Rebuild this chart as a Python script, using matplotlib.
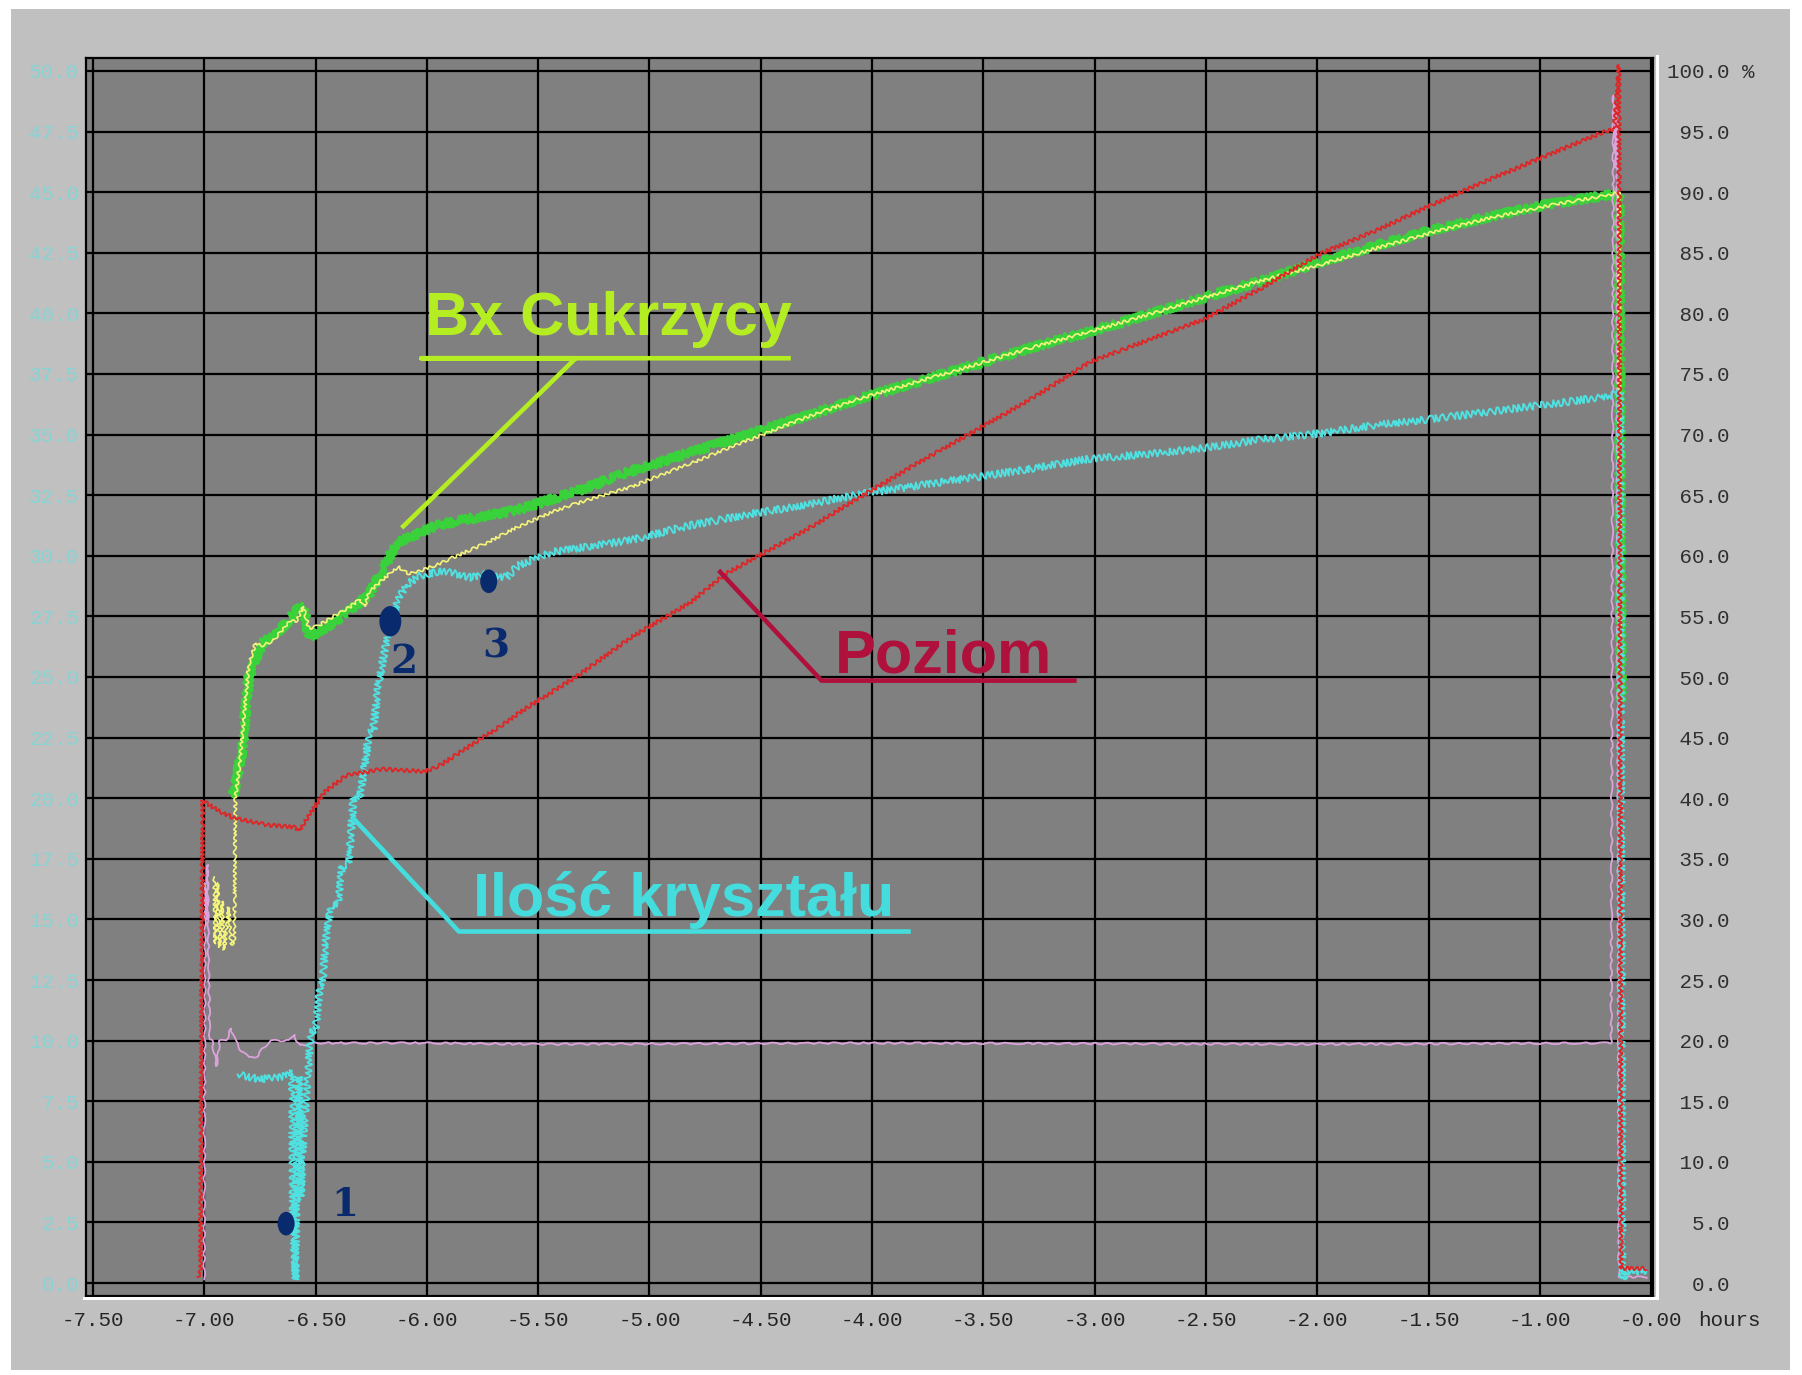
import matplotlib
matplotlib.use("Agg")
import matplotlib.pyplot as plt
from matplotlib.lines import Line2D
from matplotlib.patches import Rectangle
from matplotlib.path import Path
from matplotlib.transforms import Affine2D

# ---- values (x in hours, y in % of right scale)
x_ticks = [-7.5, -7.0, -6.5, -6.0, -5.5, -5.0, -4.5, -4.0, -3.5, -3.0,
           -2.5, -2.0, -1.5, -1.0, -0.5]
x_labels = ["-7.50", "-7.00", "-6.50", "-6.00", "-5.50", "-5.00", "-4.50",
            "-4.00", "-3.50", "-3.00", "-2.50", "-2.00", "-1.50", "-1.00",
            "-0.00"]
right_ticks = [0, 5, 10, 15, 20, 25, 30, 35, 40, 45, 50, 55, 60, 65, 70,
               75, 80, 85, 90, 95, 100]
right_labels = ["  0.0", "  5.0", " 10.0", " 15.0", " 20.0", " 25.0",
                " 30.0", " 35.0", " 40.0", " 45.0", " 50.0", " 55.0",
                " 60.0", " 65.0", " 70.0", " 75.0", " 80.0", " 85.0",
                " 90.0", " 95.0", "100.0 %"]
left_labels = ["0.0", "2.5", "5.0", "7.5", "10.0", "12.5", "15.0", "17.5",
               "20.0", "22.5", "25.0", "27.5", "30.0", "32.5", "35.0",
               "37.5", "40.0", "42.5", "45.0", "47.5", "50.0"]

# Poziom (level), red
red_x = [-7.03, -7.017, -7.007, -6.99, -6.94, -6.87, -6.72, -6.59, -6.575,
         -6.46, -6.36, -6.20, -6.01, -5.95, -5.85, -5.69, -5.54, -5.33,
         -5.08, -4.82, -4.66, -4.30, -4.05, -3.79, -3.53, -3.28, -3.02,
         -2.76, -2.51, -2.25, -1.99, -1.73, -1.48, -1.22, -0.96, -0.71,
         -0.665, -0.645, -0.635, -0.52]
red_y = [0.5, 0.8, 39.8, 39.6, 39.0, 38.4, 37.8, 37.6, 37.3,
         40.5, 41.9, 42.4, 42.2, 42.6, 43.8, 45.7, 47.6, 50.0,
         53.3, 56.1, 58.5, 62.1, 64.9, 67.7, 70.4, 73.0, 76.0,
         77.8, 79.5, 82.1, 84.9, 86.9, 89.0, 91.1, 93.1, 95.0,
         95.2, 100.5, 1.2, 1.2]

# Bx Cukrzycy, green band
green_x = [-6.87, -6.85, -6.83, -6.80, -6.74, -6.69, -6.62, -6.59, -6.555,
           -6.53, -6.49, -6.40, -6.26, -6.19, -6.14, -5.96, -5.85, -5.59,
           -5.33, -5.08, -4.82, -4.56, -4.30, -4.05, -3.79, -3.53, -3.28,
           -3.02, -2.76, -2.51, -2.25, -1.99, -1.73, -1.48, -1.22, -0.96,
           -0.68, -0.645, -0.635]
green_y = [40.2, 42.0, 44.0, 50.0, 52.8, 53.4, 54.6, 55.5, 55.8,
           53.3, 53.7, 54.7, 56.8, 59.1, 61.0, 62.5, 62.9, 63.8,
           65.3, 67.0, 68.5, 70.0, 71.5, 73.0, 74.4, 75.8, 77.2,
           78.5, 79.9, 81.3, 82.7, 84.2, 85.6, 86.9, 88.0, 89.0,
           89.8, 89.8, 48.0]

# Bx, thin yellow trace
yellow_x = [-6.955, -6.95, -6.94, -6.93, -6.92, -6.91, -6.90, -6.89, -6.88,
            -6.865, -6.86, -6.84, -6.82, -6.80, -6.77, -6.74, -6.69, -6.61,
            -6.59, -6.555, -6.53, -6.49, -6.42, -6.36, -6.30, -6.28, -6.26,
            -6.20, -6.13, -6.08, -6.04, -5.95, -5.89, -5.74, -5.59, -5.44,
            -5.33, -5.08, -4.82, -4.56, -4.30, -4.05, -3.79, -3.53, -3.28,
            -3.02, -2.76, -2.51, -2.25, -1.99, -1.73, -1.48, -1.22, -0.96,
            -0.68, -0.645, -0.64]
yellow_y = [33.5, 28.0, 33.0, 27.7, 31.5, 27.5, 29.0, 31.0, 28.0,
            28.0, 40.0, 43.0, 47.0, 51.0, 52.8, 52.6, 53.0, 54.7,
            54.5, 55.8, 54.0, 54.2, 55.0, 55.6, 56.4, 55.8, 57.0,
            58.0, 59.1, 58.5, 58.7, 59.3, 59.8, 61.0, 62.4, 63.6,
            64.3, 65.7, 67.6, 69.5, 71.4, 73.0, 74.4, 75.8, 77.2,
            78.5, 79.9, 81.3, 82.7, 84.0, 85.4, 86.7, 87.9, 88.9,
            89.8, 90.0, 52.0]

# Ilość kryształu, cyan
cyan_x = [-6.85, -6.75, -6.66, -6.615, -6.605, -6.60, -6.59, -6.585, -6.575,
          -6.57, -6.565, -6.555, -6.535, -6.52, -6.50, -6.48, -6.47, -6.455,
          -6.43, -6.40, -6.38, -6.35, -6.33, -6.30, -6.28, -6.26, -6.24,
          -6.22, -6.18, -6.13, -6.09, -6.04, -5.95, -5.89, -5.80, -5.74,
          -5.64, -5.59, -5.44, -5.33, -5.08, -4.82, -4.56, -4.30, -4.05,
          -3.79, -3.53, -3.28, -3.02, -2.76, -2.51, -2.25, -1.99, -1.73,
          -1.48, -1.22, -0.96, -0.68, -0.64, -0.63, -0.61, -0.52]
cyan_y = [17.2, 16.8, 17.0, 17.3, 17.5, 5.0, 0.3, 10.0, 17.0,
          12.0, 6.9, 12.0, 17.0, 20.7, 20.9, 24.5, 24.5, 28.1,
          31.1, 31.3, 34.4, 34.6, 39.9, 40.2, 42.6, 45.4, 45.6,
          49.2, 53.1, 56.4, 57.6, 58.3, 58.7, 58.6, 58.2, 58.5,
          58.2, 59.2, 60.3, 60.6, 61.3, 62.5, 63.4, 64.2, 65.1,
          65.8, 66.5, 67.2, 68.0, 68.4, 68.9, 69.6, 70.1, 70.8,
          71.3, 71.9, 72.5, 73.2, 73.5, 0.3, 1.0, 1.0]

# light violet trace
pink_x = [-7.0, -6.996, -6.99, -6.985, -6.98, -6.975, -6.965, -6.945, -6.93,
          -6.90, -6.88, -6.86, -6.84, -6.80, -6.76, -6.74, -6.70, -6.62,
          -6.595, -6.585, -6.57, -6.50, -6.00, -5.50, -4.00, -2.00, -0.68,
          -0.67, -0.66, -0.655, -0.645, -0.52]
pink_y = [0.3, 33.0, 30.0, 34.5, 26.0, 20.1, 20.0, 17.9, 20.0,
          20.0, 21.0, 20.0, 19.3, 18.6, 18.7, 19.3, 20.0, 20.0,
          20.5, 20.0, 19.6, 19.8, 19.8, 19.7, 19.8, 19.7, 19.8,
          98.0, 92.0, 97.0, 0.5, 0.5]

# navy markers 1-3 and their labels
marker_x = [-6.632, -6.164, -5.722]
marker_y = [4.9, 54.6, 57.9]
marker_size = [290, 480, 290]
marker_text = ["1", "2", "3"]
marker_text_x = [-6.369, -6.102, -5.691]
marker_text_y = [6.4, 51.2, 52.5]

# callout labels with underline + leader
bx_text = ("Bx Cukrzycy", -6.01, 78.2)
bx_line_x = [-4.365, -6.025, -5.331, -6.113]
bx_line_y = [76.3, 76.3, 76.3, 62.3]
poziom_text = ("Poziom", -4.165, 50.4)
poziom_line_x = [-4.689, -4.227, -3.081]
poziom_line_y = [58.8, 49.7, 49.7]
ilosc_text = ("Ilość kryształu", -5.794, 30.3)
ilosc_line_x = [-6.333, -5.856, -3.826]
ilosc_line_y = [38.4, 29.0, 29.0]

plt.rcParams["font.family"] = ["Liberation Mono", "DejaVu Sans Mono"]

W, H = 1802, 1375
fig = plt.figure(figsize=(W / 100, H / 100), dpi=100, facecolor="white")
fig.add_artist(Rectangle((11 / W, 5 / H), 1779 / W, 1361 / H,
                         transform=fig.transFigure, facecolor="#c0c0c0",
                         edgecolor="none", zorder=-10))

ax = fig.add_axes([86 / W, 1 - 1296 / H, (1653 - 86) / W, (1296 - 58) / H])
ax.set_facecolor("#808080")
ax.set_xlim(-7.531, -0.492)
ax.set_ylim(-1.07, 101.07)

ax.set_xticks(x_ticks, labels=x_labels)
ax.set_yticks(right_ticks, labels=left_labels)
ax.grid(True, color="black", linewidth=1.6)
ax.set_axisbelow(True)
for sp in ax.spines.values():
    sp.set_color("black")
    sp.set_linewidth(1.6)
ax.tick_params(length=0)
ax.tick_params(axis="x", pad=11, labelsize=15, labelcolor="#252525")
ax.tick_params(axis="y", pad=5, labelsize=15, labelcolor="#86d4d4")

sec = ax.secondary_yaxis("right")
sec.set_yticks(right_ticks, labels=right_labels)
sec.tick_params(length=0, pad=10, labelsize=15, labelcolor="#303030")
sec.spines["right"].set_visible(False)

fig.text(1698 / W, 1 - 1320 / H, "hours", ha="left", va="center",
         fontsize=15, color="#252525")

# white bevel on the right / bottom of the trend frame
fig.add_artist(Line2D([1657 / W, 1657 / W], [1 - 1298 / H, 1 - 56 / H],
                      transform=fig.transFigure, color="white", lw=2.2))
fig.add_artist(Line2D([84 / W, 1657 / W], [1 - 1298 / H, 1 - 1298 / H],
                      transform=fig.transFigure, color="white", lw=2.2))

# trends (sketch params only give the noisy look of the recorder traces)
g, = ax.plot(green_x, green_y, color="#3ad23a", lw=3.0, zorder=3)
g.set_sketch_params(4.0, 4, 3)
p, = ax.plot(pink_x, pink_y, color="#dca2dc", lw=1.3, zorder=3)
p.set_sketch_params(0.8, 20, 4)
yl, = ax.plot(yellow_x, yellow_y, color="#f4f47a", lw=1.2, zorder=4)
yl.set_sketch_params(1.4, 8, 3)
c, = ax.plot(cyan_x, cyan_y, color="#50e0e0", lw=1.4, zorder=5)
c.set_sketch_params(3.5, 6, 3)
r, = ax.plot(red_x, red_y, color="#dc2828", lw=1.4, zorder=5)
r.set_sketch_params(1.8, 6, 2)

# callouts
label_font = dict(family=["Liberation Sans", "DejaVu Sans"],
                  fontweight="bold", fontsize=44, zorder=7)
for (txt, tx, ty), lx, ly, col in [
        (bx_text, bx_line_x, bx_line_y, "#b4ee22"),
        (poziom_text, poziom_line_x, poziom_line_y, "#b0103c"),
        (ilosc_text, ilosc_line_x, ilosc_line_y, "#44dcdc")]:
    ax.text(tx, ty, txt, color=col, ha="left", va="baseline", **label_font)
    ax.plot(lx, ly, color=col, lw=3.3, solid_capstyle="butt", zorder=7)

ellipse = Path.unit_circle().transformed(Affine2D().scale(0.72, 1.0))
ax.scatter(marker_x, marker_y, s=marker_size, marker=ellipse,
           color="#0a2a6e", edgecolors="none", zorder=8)
for t, tx, ty in zip(marker_text, marker_text_x, marker_text_y):
    ax.text(tx, ty, t, color="#0a2a6e", fontsize=28, fontweight="bold",
            ha="center", va="center", family=["DejaVu Serif"], zorder=8)

fig.savefig("out.png", dpi=100, facecolor=fig.get_facecolor())
